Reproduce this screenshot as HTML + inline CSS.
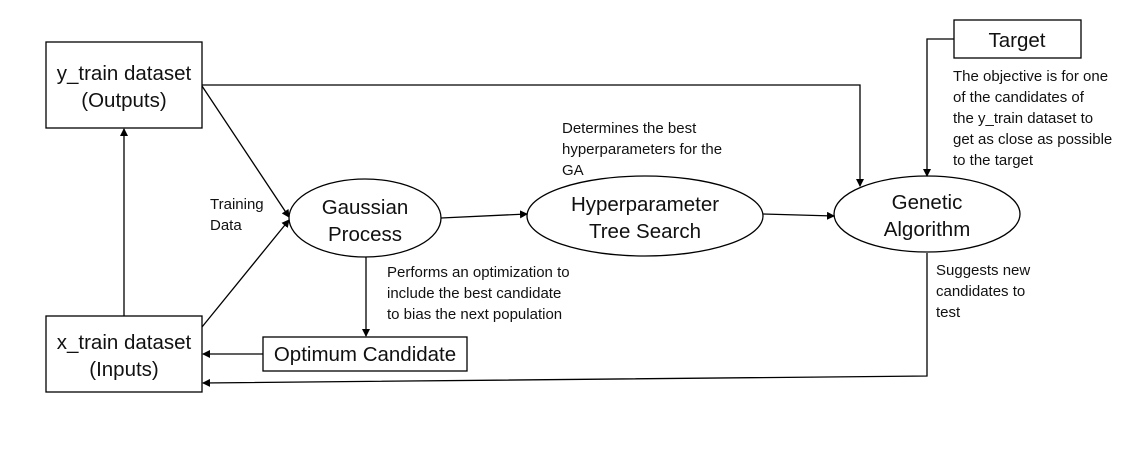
<!DOCTYPE html>
<html><head><meta charset="utf-8"><style>
body{margin:0;background:#fff}
svg{display:block}
text{font-family:"Liberation Sans",sans-serif;fill:#111}
.b{font-size:20.5px}
.s{font-size:15px}
</style></head><body>
<svg width="1141" height="451" viewBox="0 0 1141 451" xmlns="http://www.w3.org/2000/svg">
<defs><marker id="a" markerWidth="8" markerHeight="8" refX="7" refY="4" orient="auto" markerUnits="userSpaceOnUse"><path d="M0,0 L8,4 L0,8 z" fill="#000"/></marker></defs>
<g stroke="#000" stroke-width="1.3" fill="none">
<rect x="46" y="42" width="156" height="86" fill="#fff"/>
<rect x="46" y="316" width="156" height="76" fill="#fff"/>
<rect x="263" y="337" width="204" height="34" fill="#fff"/>
<rect x="954" y="20" width="127" height="38" fill="#fff"/>
<ellipse cx="365" cy="218" rx="76" ry="39" fill="#fff"/>
<ellipse cx="645" cy="216" rx="118" ry="40" fill="#fff"/>
<ellipse cx="927" cy="214" rx="93" ry="38" fill="#fff"/>
<line x1="124" y1="316" x2="124" y2="129" marker-end="url(#a)"/>
<polyline points="202,85 860,85 860,186" marker-end="url(#a)"/>
<line x1="202" y1="86" x2="289" y2="217" marker-end="url(#a)"/>
<line x1="202" y1="327" x2="289" y2="220" marker-end="url(#a)"/>
<line x1="441" y1="218" x2="527" y2="214" marker-end="url(#a)"/>
<line x1="763" y1="214" x2="834" y2="216" marker-end="url(#a)"/>
<polyline points="954,39 927,39 927,176" marker-end="url(#a)"/>
<line x1="366" y1="257" x2="366" y2="336" marker-end="url(#a)"/>
<line x1="263" y1="354" x2="203" y2="354" marker-end="url(#a)"/>
<polyline points="927,253 927,376 203,383" marker-end="url(#a)"/>
</g>
<g class="b" text-anchor="middle">
<text x="124" y="80">y_train dataset</text>
<text x="124" y="107">(Outputs)</text>
<text x="124" y="349">x_train dataset</text>
<text x="124" y="376">(Inputs)</text>
<text x="365" y="214">Gaussian</text>
<text x="365" y="241">Process</text>
<text x="645" y="211">Hyperparameter</text>
<text x="645" y="238">Tree Search</text>
<text x="927" y="209">Genetic</text>
<text x="927" y="236">Algorithm</text>
<text x="365" y="361">Optimum Candidate</text>
<text x="1017" y="47">Target</text>
</g>
<g class="s">
<text x="210" y="209">Training</text>
<text x="210" y="230">Data</text>
<text x="562" y="133">Determines the best</text>
<text x="562" y="154">hyperparameters for the</text>
<text x="562" y="175">GA</text>
<text x="387" y="277">Performs an optimization to</text>
<text x="387" y="298">include the best candidate</text>
<text x="387" y="319">to bias the next population</text>
<text x="953" y="81">The objective is for one</text>
<text x="953" y="102">of the candidates of</text>
<text x="953" y="123">the y_train dataset to</text>
<text x="953" y="144">get as close as possible</text>
<text x="953" y="165">to the target</text>
<text x="936" y="275">Suggests new</text>
<text x="936" y="296">candidates to</text>
<text x="936" y="317">test</text>
</g>
</svg>
</body></html>
